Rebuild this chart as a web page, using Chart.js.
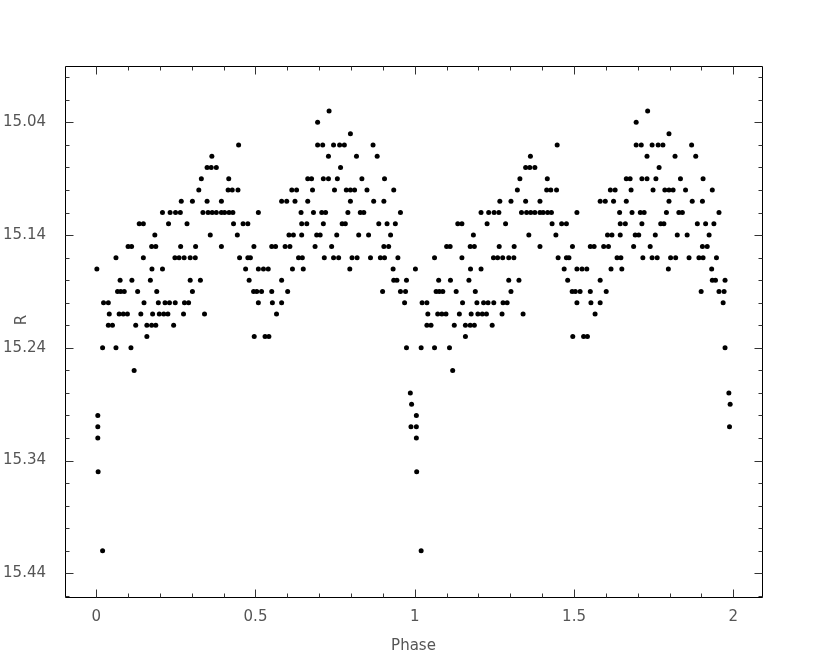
<!DOCTYPE html>
<html><head><meta charset="utf-8">
<script src="https://cdn.jsdelivr.net/npm/chart.js@4"></script>
<style>html,body{margin:0;padding:0;background:#fff}#wrap{width:830px;height:664px}</style>
</head><body><div id="wrap"><canvas id="c" width="830" height="664" style="width:830px;height:664px"></canvas></div>
<script>
// Phase-folded light curve (one cycle); plotted twice (phase and phase + 1)
const phase = [
  0.731,
  0.695,
  0.798,
  0.447, 0.695, 0.711, 0.745, 0.764, 0.779, 0.869,
  0.363, 0.729, 0.817, 0.882,
  0.348, 0.361, 0.377, 0.767,
  0.330, 0.416, 0.664, 0.676, 0.713, 0.729, 0.757, 0.834, 0.905,
  0.322, 0.414, 0.427, 0.445, 0.614, 0.629, 0.679, 0.748, 0.785, 0.798, 0.811, 0.850, 0.934,
  0.267, 0.302, 0.348, 0.393, 0.582, 0.598, 0.624, 0.664, 0.798, 0.871, 0.903,
  0.208, 0.232, 0.249, 0.264, 0.335, 0.351, 0.364, 0.377, 0.393, 0.403, 0.417, 0.429, 0.509, 0.643, 0.682, 0.708, 0.720, 0.790, 0.829, 0.840, 0.955,
  0.135, 0.148, 0.227, 0.285, 0.431, 0.461, 0.476, 0.645, 0.661, 0.713, 0.772, 0.782, 0.887, 0.913, 0.939,
  0.184, 0.358, 0.443, 0.605, 0.619, 0.645, 0.692, 0.703, 0.755, 0.824, 0.855, 0.924,
  0.100, 0.111, 0.174, 0.187, 0.265, 0.312, 0.393, 0.495, 0.551, 0.563, 0.593, 0.608, 0.687, 0.739, 0.903, 0.918,
  0.062, 0.148, 0.247, 0.260, 0.276, 0.295, 0.311, 0.450, 0.476, 0.484, 0.635, 0.647, 0.716, 0.745, 0.761, 0.803, 0.819, 0.861, 0.892, 0.905, 0.947,
  0.002, 0.175, 0.208, 0.469, 0.509, 0.525, 0.540, 0.616, 0.650, 0.796, 0.932,
  0.075, 0.112, 0.170, 0.295, 0.327, 0.480, 0.582, 0.934, 0.944, 0.974,
  0.067, 0.077, 0.088, 0.130, 0.190, 0.302, 0.494, 0.504, 0.519, 0.551, 0.601, 0.899, 0.955, 0.971,
  0.023, 0.038, 0.150, 0.195, 0.216, 0.230, 0.248, 0.277, 0.290, 0.509, 0.553, 0.582, 0.968,
  0.041, 0.072, 0.085, 0.098, 0.140, 0.177, 0.198, 0.212, 0.225, 0.274, 0.340, 0.566,
  0.038, 0.051, 0.124, 0.159, 0.174, 0.187, 0.243,
  0.159, 0.496, 0.530, 0.542,
  0.020, 0.062, 0.109, 0.974,
  0.119, 0.986, 0.990, 0.005, 0.005, 0.988, 0.005, 0.006, 0.020
];
const rMag = [
  15.03,
  15.04,
  15.05,
  15.06, 15.06, 15.06, 15.06, 15.06, 15.06, 15.06,
  15.07, 15.07, 15.07, 15.07,
  15.08, 15.08, 15.08, 15.08,
  15.09, 15.09, 15.09, 15.09, 15.09, 15.09, 15.09, 15.09, 15.09,
  15.10, 15.10, 15.10, 15.10, 15.10, 15.10, 15.10, 15.10, 15.10, 15.10, 15.10, 15.10, 15.10,
  15.11, 15.11, 15.11, 15.11, 15.11, 15.11, 15.11, 15.11, 15.11, 15.11, 15.11,
  15.12, 15.12, 15.12, 15.12, 15.12, 15.12, 15.12, 15.12, 15.12, 15.12, 15.12, 15.12, 15.12, 15.12, 15.12, 15.12, 15.12, 15.12, 15.12, 15.12, 15.12,
  15.13, 15.13, 15.13, 15.13, 15.13, 15.13, 15.13, 15.13, 15.13, 15.13, 15.13, 15.13, 15.13, 15.13, 15.13,
  15.14, 15.14, 15.14, 15.14, 15.14, 15.14, 15.14, 15.14, 15.14, 15.14, 15.14, 15.14,
  15.15, 15.15, 15.15, 15.15, 15.15, 15.15, 15.15, 15.15, 15.15, 15.15, 15.15, 15.15, 15.15, 15.15, 15.15, 15.15,
  15.16, 15.16, 15.16, 15.16, 15.16, 15.16, 15.16, 15.16, 15.16, 15.16, 15.16, 15.16, 15.16, 15.16, 15.16, 15.16, 15.16, 15.16, 15.16, 15.16, 15.16,
  15.17, 15.17, 15.17, 15.17, 15.17, 15.17, 15.17, 15.17, 15.17, 15.17, 15.17,
  15.18, 15.18, 15.18, 15.18, 15.18, 15.18, 15.18, 15.18, 15.18, 15.18,
  15.19, 15.19, 15.19, 15.19, 15.19, 15.19, 15.19, 15.19, 15.19, 15.19, 15.19, 15.19, 15.19, 15.19,
  15.20, 15.20, 15.20, 15.20, 15.20, 15.20, 15.20, 15.20, 15.20, 15.20, 15.20, 15.20, 15.20,
  15.21, 15.21, 15.21, 15.21, 15.21, 15.21, 15.21, 15.21, 15.21, 15.21, 15.21, 15.21,
  15.22, 15.22, 15.22, 15.22, 15.22, 15.22, 15.22,
  15.23, 15.23, 15.23, 15.23,
  15.24, 15.24, 15.24, 15.24,
  15.26, 15.28, 15.29, 15.30, 15.31, 15.31, 15.32, 15.35, 15.42
];
const cycleOffsets = [0, 1];
const xTickValues = [0, 0.5, 1, 1.5, 2];
const xTickLabels = ['0', '0.5', '1', '1.5', '2'];
const yTickValues = [15.04, 15.14, 15.24, 15.34, 15.44];
const yTickLabels = ['15.04', '15.14', '15.24', '15.34', '15.44'];
const xTitle = 'Phase';
const yTitle = 'R';

const FONT = {family: 'DejaVu Sans', size: 15};
const TEXT = '#555555';

const datasets = cycleOffsets.map(off => ({
  data: phase.map((p, i) => ({x: p + off, y: rMag[i]})),
  pointRadius: 2.5,
  pointBackgroundColor: '#000',
  pointBorderWidth: 0,
  showLine: false
}));

const framePlugin = {
  id: 'frame',
  afterDraw(chart) {
    const {ctx, chartArea: a, scales: {x, y}} = chart;
    const L = Math.round(a.left) + 0.5, R = Math.round(a.right) + 0.5;
    const T = Math.round(a.top) + 0.5, B = Math.round(a.bottom) + 0.5;
    ctx.save();
    ctx.lineWidth = 1;
    ctx.strokeStyle = '#000';
    ctx.beginPath();
    ctx.moveTo(L, T); ctx.lineTo(R, T); ctx.lineTo(R, B); ctx.lineTo(L, B); ctx.closePath();
    ctx.stroke();
    ctx.strokeStyle = '#333';
    ctx.beginPath();
    for (let k = 0; k <= 20; k++) {
      const v = k / 10;
      if (v < x.min || v > x.max) continue;
      const px = Math.round(x.getPixelForValue(v)) + 0.5;
      const len = (k % 5 === 0) ? 8 : 4;
      ctx.moveTo(px, B); ctx.lineTo(px, B - len);
      ctx.moveTo(px, T); ctx.lineTo(px, T + len);
    }
    for (let k = 0; k <= 23; k++) {
      const v = 15.00 + k * 0.02;
      if (v < y.min || v > y.max) continue;
      const py = Math.round(y.getPixelForValue(v)) + 0.5;
      const major = ((k - 2) % 5 === 0);
      const len = major ? 8 : 4;
      ctx.moveTo(L, py); ctx.lineTo(L + len, py);
      ctx.moveTo(R, py); ctx.lineTo(R - len, py);
    }
    ctx.stroke();
    ctx.fillStyle = TEXT;
    ctx.font = FONT.size + 'px "' + FONT.family + '"';
    ctx.textAlign = 'center';
    ctx.textBaseline = 'middle';
    ctx.fillText(xTitle, (a.left + a.right) / 2, 646);
    ctx.translate(22, 320);
    ctx.rotate(-Math.PI / 2);
    ctx.fillText(yTitle, 0, 0);
    ctx.restore();
  }
};

new Chart(document.getElementById('c'), {
  type: 'scatter',
  data: {datasets},
  plugins: [framePlugin],
  options: {
    responsive: false,
    animation: false,
    devicePixelRatio: 1,
    layout: {padding: {left: 0, top: 66, right: 68, bottom: 0}},
    plugins: {legend: {display: false}, tooltip: {enabled: false}},
    scales: {
      x: {
        type: 'linear', min: -0.098, max: 2.09,
        afterBuildTicks: s => { s.ticks = xTickValues.map(v => ({value: v})); },
        afterFit: s => { s.height = 67; },
        ticks: {
          callback: (v) => xTickLabels[xTickValues.indexOf(v)],
          color: TEXT, font: FONT, padding: 11, maxRotation: 0, autoSkip: false
        },
        grid: {display: false, drawTicks: false},
        border: {display: false}
      },
      y: {
        type: 'linear', min: 14.99, max: 15.461, reverse: true,
        afterBuildTicks: s => { s.ticks = yTickValues.map(v => ({value: v})); },
        afterFit: s => { s.width = 65; },
        ticks: {
          callback: (v) => yTickLabels[yTickValues.indexOf(v)],
          color: TEXT, font: FONT, padding: 19, autoSkip: false
        },
        grid: {display: false, drawTicks: false},
        border: {display: false}
      }
    }
  }
});
</script>
</body></html>
